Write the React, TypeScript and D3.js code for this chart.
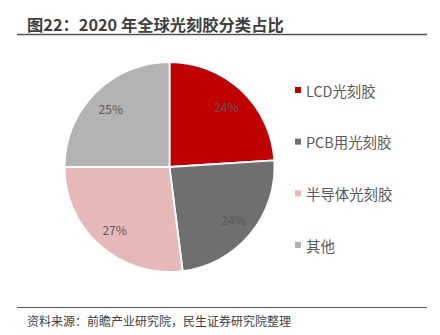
import React, { useEffect, useRef } from "react";
import * as d3 from "d3";

const categories = ["LCD光刻胶", "PCB用光刻胶", "半导体光刻胶", "其他"];
const values = [24, 24, 27, 25];
const colors = ["#C00000", "#6F6F6F", "#E6B8B7", "#B3B3B3"];
const title = "图22：2020 年全球光刻胶分类占比";
const source = "资料来源：前瞻产业研究院，民生证券研究院整理";

const W = 440;
const H = 335;
const FONT = "'Noto Sans CJK SC', 'Noto Sans', sans-serif";

export default function App() {
  const ref = useRef<SVGSVGElement | null>(null);

  useEffect(() => {
    const svg = d3.select(ref.current);
    svg.selectAll("*").remove();

    svg.append("rect").attr("width", W).attr("height", H).attr("fill", "#fff");

    // Title
    svg
      .append("text")
      .attr("x", 27)
      .attr("y", 31)
      .attr("font-family", FONT)
      .attr("font-size", 16.3)
      .attr("font-weight", "bold")
      .attr("fill", "#404040")
      .text(title);
    svg
      .append("line")
      .attr("x1", 17)
      .attr("x2", 427)
      .attr("y1", 34.5)
      .attr("y2", 34.5)
      .attr("stroke", "#555")
      .attr("stroke-width", 1.5);

    // Pie
    const cx = 169.5;
    const cy = 167;
    const R = 105;
    const pie = d3
      .pie<number>()
      .sort(null)
      .value((d) => d)
      .startAngle(0)
      .endAngle(2 * Math.PI);
    const arcs = pie(values);
    const arc = d3.arc<d3.PieArcDatum<number>>().innerRadius(0).outerRadius(R);
    const labelArc = d3
      .arc<d3.PieArcDatum<number>>()
      .innerRadius(83)
      .outerRadius(83);

    const totalV = d3.sum(values);
    const g = svg.append("g").attr("transform", `translate(${cx},${cy})`);
    g.selectAll("path")
      .data(arcs)
      .enter()
      .append("path")
      .attr("d", arc as any)
      .attr("fill", (_d, i) => colors[i])
      .attr("stroke", "#fff")
      .attr("stroke-width", 1.8)
      .attr("stroke-linejoin", "round");

    g.selectAll("text.lbl")
      .data(arcs)
      .enter()
      .append("text")
      .attr("class", "lbl")
      .attr("transform", (d) => `translate(${labelArc.centroid(d)})`)
      .attr("text-anchor", "middle")
      .attr("dominant-baseline", "central")
      .attr("font-family", FONT)
      .attr("font-size", 12)
      .attr("fill", "#595959")
      .text((d) => `${Math.round((d.value / totalV) * 100)}%`);

    // Legend
    const ly = d3
      .scalePoint<string>()
      .domain(categories)
      .range([90, 245]);
    const leg = svg
      .selectAll("g.leg")
      .data(categories)
      .enter()
      .append("g")
      .attr("class", "leg")
      .attr("transform", (d) => `translate(295,${ly(d)})`);
    leg
      .append("rect")
      .attr("x", 0)
      .attr("y", -3)
      .attr("width", 6)
      .attr("height", 6)
      .attr("fill", (_d, i) => colors[i]);
    leg
      .append("text")
      .attr("x", 11)
      .attr("y", 0)
      .attr("dominant-baseline", "central")
      .attr("font-family", FONT)
      .attr("font-size", 14.4)
      .attr("fill", "#595959")
      .text((d) => d);

    // Bottom
    svg
      .append("line")
      .attr("x1", 17)
      .attr("x2", 427)
      .attr("y1", 307.5)
      .attr("y2", 307.5)
      .attr("stroke", "#555")
      .attr("stroke-width", 1);
    svg
      .append("text")
      .attr("x", 27)
      .attr("y", 325.5)
      .attr("font-family", FONT)
      .attr("font-size", 12)
      .attr("fill", "#404040")
      .text(source);
  }, []);

  return (
    <svg
      ref={ref}
      width={W}
      height={H}
      style={{ position: "absolute", left: 0, top: 0, display: "block" }}
    />
  );
}
